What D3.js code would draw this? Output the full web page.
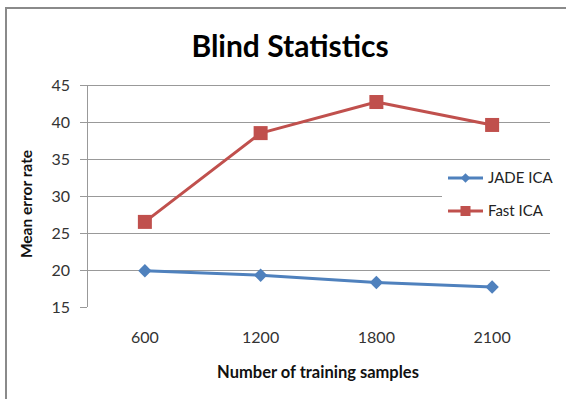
<!DOCTYPE html>
<html><head><meta charset="utf-8">
<script src="https://cdn.jsdelivr.net/npm/d3@7"></script>
<style>html,body{margin:0;padding:0;background:#fff;}svg{display:block;}</style>
</head><body>
<script>
const categories = ["600", "1200", "1800", "2100"];
const jadeICA = [19.9, 19.3, 18.3, 17.7];
const fastICA = [26.5, 38.5, 42.7, 39.6];
const yTicks = [15, 20, 25, 30, 35, 40, 45];
const seriesNames = ["JADE ICA", "Fast ICA"];
const colors = ["#4F81BD", "#C0504D"];

const W = 566, H = 399;
const svg = d3.select("body").append("svg").attr("width", W).attr("height", H);
const font = "Lato, 'Open Sans', sans-serif";

// outer frame
svg.append("rect").attr("x", 6).attr("y", 8).attr("width", 580).attr("height", 420)
  .attr("fill", "none").attr("stroke", "#8a8a8a").attr("stroke-width", 2);

const pL = 87, pR = 550, pT = 85, pB = 307;
const x = d3.scaleBand().domain(categories).range([pL, pR]);
const y = d3.scaleLinear().domain([15, 45]).range([pB, pT]);

// gridlines
svg.append("g").selectAll("line").data(yTicks.filter(t => t > 15)).join("line")
  .attr("x1", pL - 7).attr("x2", pR)
  .attr("y1", d => Math.round(y(d)) + 0.5).attr("y2", d => Math.round(y(d)) + 0.5)
  .attr("stroke", "#999").attr("stroke-width", 1);
// tick at 15
svg.append("line").attr("x1", pL - 7).attr("x2", pL).attr("y1", Math.round(y(15)) + 0.5).attr("y2", Math.round(y(15)) + 0.5)
  .attr("stroke", "#999");
// y axis line
svg.append("line").attr("x1", pL + 0.5).attr("x2", pL + 0.5).attr("y1", pT).attr("y2", pB)
  .attr("stroke", "#999");

// y tick labels
svg.append("g").selectAll("text").data(yTicks).join("text")
  .attr("x", 70).attr("y", d => y(d)).attr("dy", "0.35em").attr("text-anchor", "end")
  .attr("font-family", font).attr("font-size", 16).attr("fill", "#333").text(d => d);

// x tick labels
svg.append("g").selectAll("text").data(categories).join("text")
  .attr("x", d => x(d) + x.bandwidth() / 2).attr("y", 337).attr("dy", "0.35em").attr("text-anchor", "middle")
  .attr("font-family", font).attr("font-size", 16).attr("fill", "#333").text(d => d);

// titles
svg.append("text").attr("x", 290).attr("y", 57).attr("text-anchor", "middle")
  .attr("font-family", font).attr("font-weight", "bold").attr("font-size", 30).attr("fill", "#000")
  .text("Blind Statistics");
svg.append("text").attr("x", 318).attr("y", 372).attr("dy", "0.35em").attr("text-anchor", "middle")
  .attr("font-family", font).attr("font-weight", "bold").attr("font-size", 16.5).attr("fill", "#111")
  .text("Number of training samples");
svg.append("text").attr("transform", "translate(27,204) rotate(-90)").attr("dy", "0.35em").attr("text-anchor", "middle")
  .attr("font-family", font).attr("font-weight", "bold").attr("font-size", 15.5).attr("fill", "#111")
  .text("Mean error rate");

// legend background (covers gridline)
svg.append("rect").attr("x", 442).attr("y", 165).attr("width", 120).attr("height", 60).attr("fill", "#fff");

const series = [jadeICA, fastICA];
const line = d3.line().x((d, i) => x(categories[i]) + x.bandwidth() / 2).y(d => y(d));
const diamond = d3.symbol().type(d3.symbolDiamond).size(52);

series.forEach((vals, si) => {
  svg.append("path").datum(vals).attr("d", line).attr("fill", "none")
    .attr("stroke", colors[si]).attr("stroke-width", 3).attr("stroke-linejoin", "round");
  const g = svg.append("g");
  vals.forEach((v, i) => {
    const cx = x(categories[i]) + x.bandwidth() / 2, cy = y(v);
    if (si === 0) {
      g.append("path").attr("d", diamond).attr("transform", `translate(${cx},${cy}) scale(1.73,1)`).attr("fill", colors[si]);
    } else {
      g.append("rect").attr("x", cx - 7).attr("y", cy - 7).attr("width", 14).attr("height", 14).attr("fill", colors[si]);
    }
  });
});

// legend
const legY = [178, 211];
seriesNames.forEach((name, si) => {
  const ly = legY[si];
  svg.append("line").attr("x1", 448).attr("x2", 483).attr("y1", ly).attr("y2", ly)
    .attr("stroke", colors[si]).attr("stroke-width", 3);
  if (si === 0) {
    svg.append("path").attr("d", d3.symbol().type(d3.symbolDiamond).size(26)).attr("transform", `translate(465.5,${ly}) scale(1.73,1)`).attr("fill", colors[si]);
  } else {
    svg.append("rect").attr("x", 460.5).attr("y", ly - 5).attr("width", 10).attr("height", 10).attr("fill", colors[si]);
  }
  svg.append("text").attr("x", 488).attr("y", ly).attr("dy", "0.35em")
    .attr("font-family", font).attr("font-size", 15).attr("fill", "#222").text(name);
});
</script>
</body></html>
